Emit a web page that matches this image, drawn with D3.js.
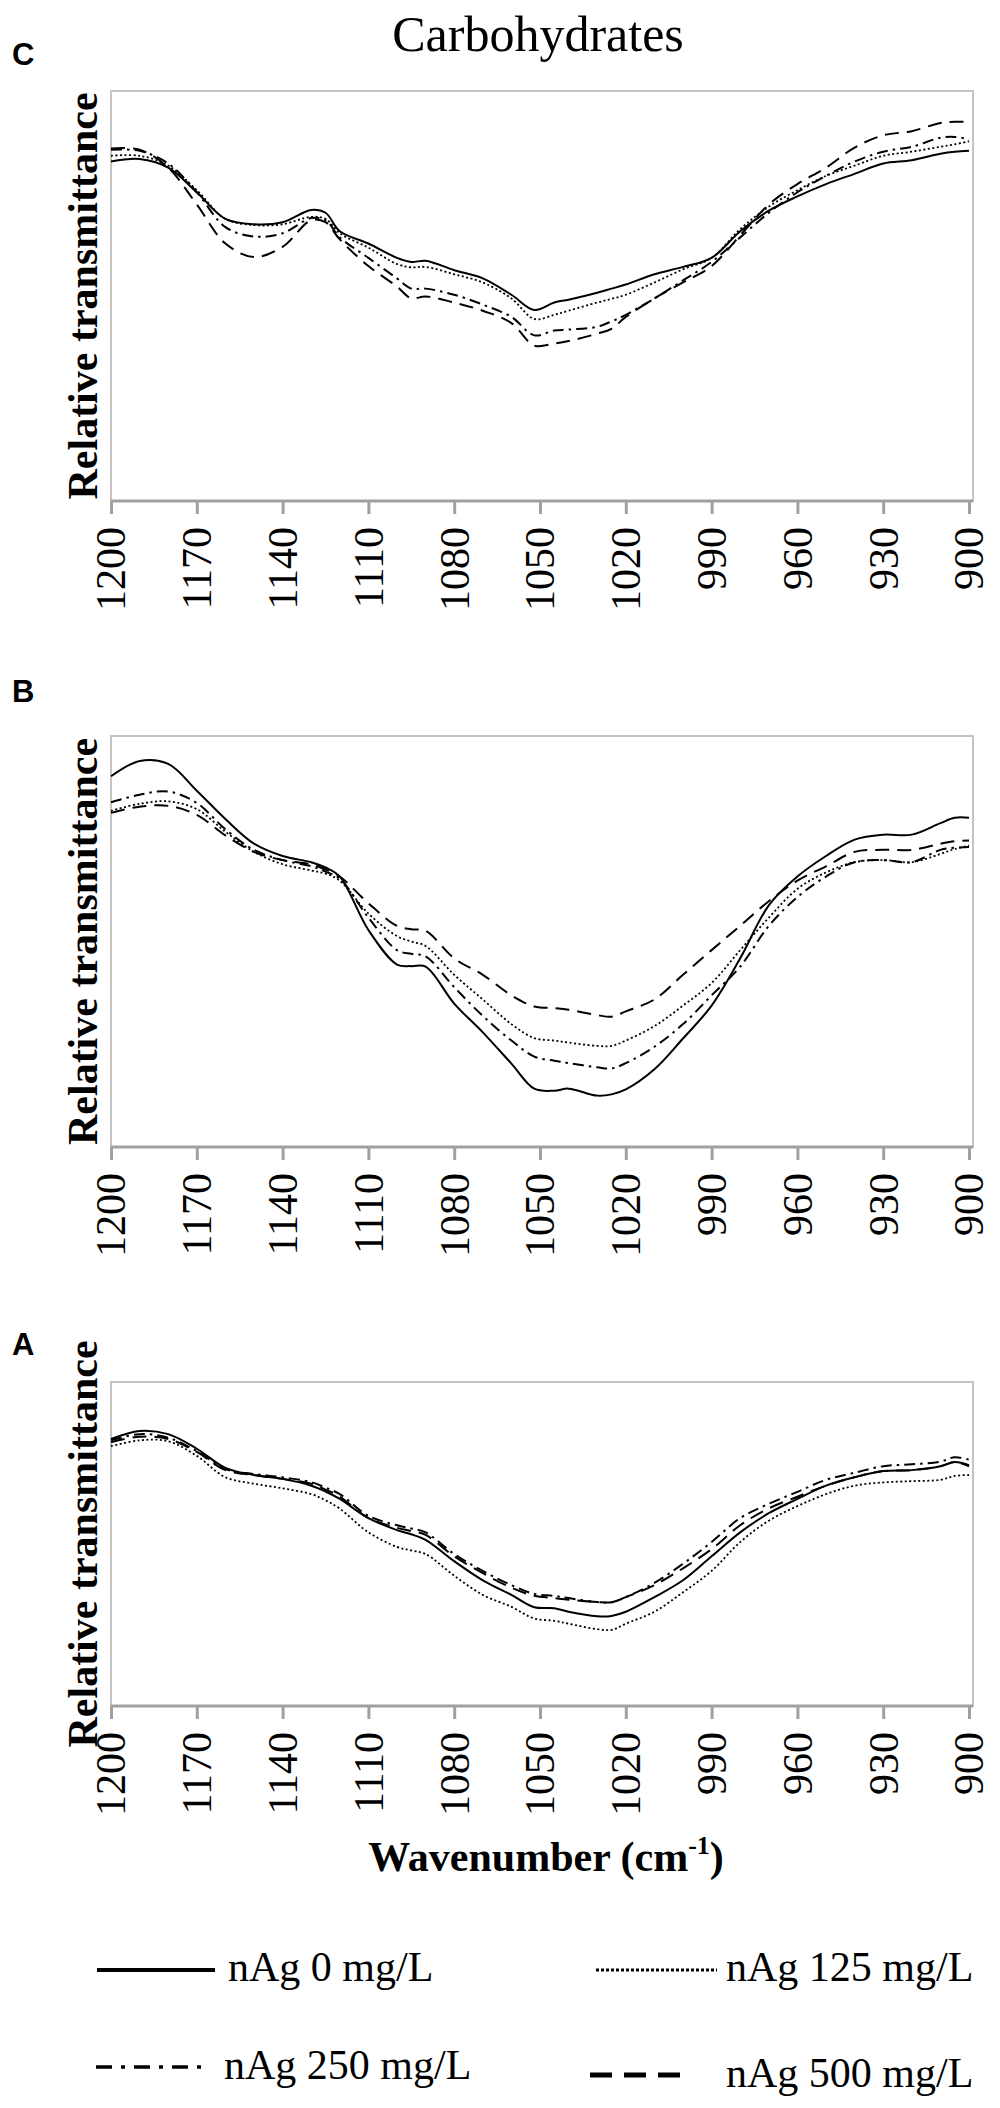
<!DOCTYPE html>
<html lang="en">
<head>
    <meta charset="UTF-8">
    <title>Carbohydrates</title>
    <script src="https://cdn.jsdelivr.net/npm/d3@7/dist/d3.min.js"></script>
    <style>
        body { margin: 0; background: #fff; }
    </style>
</head>
<body>
<svg id="main-svg" width="1000" height="2108" xmlns="http://www.w3.org/2000/svg"></svg>

<script>
    'use strict';
    // wavenumber grid (cm-1) the curves were read at
    const wavenumbers = [1200, 1190, 1180, 1170, 1160, 1150, 1140, 1130, 1125, 1120, 1110, 1100, 1095, 1090,
        1080, 1070, 1060, 1052, 1045, 1040, 1030, 1025, 1020, 1010, 1000, 990, 980, 970, 960, 950, 940,
        930, 920, 910, 905, 900];
    const xTicks = [1200, 1170, 1140, 1110, 1080, 1050, 1020, 990, 960, 930, 900];
    const seriesNames = ['nAg 0 mg/L', 'nAg 125 mg/L', 'nAg 250 mg/L', 'nAg 500 mg/L'];

    // relative transmittance, arbitrary units (0 = axis, 100 = top of frame)
    const panelC_0 = [82.8, 83.4, 81.3, 75.3, 68.8, 67.5, 68.0, 71.0, 70.3, 65.8, 62.8, 59.3, 58.3, 58.6,
        56.3, 54.3, 50.3, 46.6, 48.4, 49.1, 50.8, 51.8, 52.8, 55.3, 57.1, 59.3, 65.8, 70.8, 74.3, 77.3, 79.8,
        82.3, 83.1, 84.7, 85.2, 85.4];
    const panelC_125 = [84.2, 84.2, 81.8, 75.8, 68.8, 67.3, 67.5, 69.3, 68.8, 65.3, 61.8, 57.8, 57.0, 57.1,
        55.3, 53.3, 49.4, 44.4, 45.4, 46.4, 48.4, 49.3, 50.3, 53.3, 56.5, 59.3, 66.3, 71.8, 75.8, 79.3, 81.8,
        84.2, 85.2, 86.4, 87.0, 87.7];
    const panelC_250 = [85.7, 85.4, 82.3, 75.3, 66.8, 64.5, 65.3, 69.0, 68.5, 64.3, 59.3, 54.3, 51.8, 51.8,
        50.3, 47.9, 44.9, 40.4, 41.6, 41.8, 42.5, 43.8, 45.4, 49.4, 53.8, 58.3, 64.3, 70.3, 75.3, 79.3, 82.8,
        85.2, 86.4, 88.6, 88.8, 88.2];
    const panelC_500 = [86.0, 85.7, 81.3, 72.3, 62.8, 59.5, 62.0, 68.5, 68.0, 63.8, 57.3, 52.3, 49.4, 49.9,
        48.4, 46.4, 43.4, 37.9, 38.4, 39.0, 40.8, 42.0, 44.9, 49.4, 53.3, 57.3, 64.8, 72.3, 77.3, 81.3, 86.2,
        89.2, 90.2, 92.2, 92.5, 92.5];

    const panelB_0 = [90.2, 93.9, 93.2, 86.7, 79.8, 73.8, 70.8, 69.3, 68.0, 65.8, 52.8, 44.4, 44.0, 43.9,
        34.9, 27.9, 20.3, 14.2, 13.7, 14.2, 12.5, 12.8, 14.0, 18.9, 26.4, 34.4, 45.9, 58.8, 65.8, 70.8, 74.8,
        76.0, 76.0, 78.8, 80.1, 80.1];
    const panelB_125 = [81.8, 83.5, 84.1, 82.2, 76.7, 71.8, 68.8, 67.3, 66.5, 64.8, 56.8, 51.3, 50.0, 48.9,
        41.9, 35.9, 29.9, 26.5, 25.9, 25.4, 24.6, 24.6, 25.9, 29.4, 34.4, 39.9, 47.9, 55.8, 62.8, 66.8, 69.3,
        69.8, 69.3, 71.3, 72.5, 73.3];
    const panelB_250 = [83.9, 85.7, 86.5, 83.7, 77.3, 72.3, 69.8, 68.3, 67.0, 65.3, 55.8, 47.9, 47.0, 46.4,
        38.9, 31.9, 25.9, 22.0, 21.0, 20.4, 19.4, 19.1, 20.4, 24.4, 29.9, 36.9, 43.9, 53.8, 60.8, 65.8, 69.3,
        69.8, 69.3, 72.3, 72.8, 73.0];
    const panelB_500 = [81.3, 82.8, 83.0, 80.8, 75.8, 71.8, 69.8, 68.8, 67.5, 65.8, 59.3, 53.8, 53.0, 52.6,
        45.9, 41.9, 36.9, 34.2, 33.8, 33.4, 32.1, 31.7, 33.0, 35.9, 41.9, 47.9, 53.8, 59.8, 64.8, 68.3, 71.8,
        72.3, 72.3, 73.8, 74.4, 74.6];

    const panelA_0 = [82.4, 84.9, 83.9, 79.4, 73.5, 71.3, 70.1, 68.0, 66.2, 63.9, 58.0, 54.3, 53.0, 51.3,
        44.7, 38.8, 34.3, 30.5, 30.2, 29.1, 27.7, 27.8, 29.1, 33.6, 38.8, 46.2, 53.6, 59.5, 63.9, 68.0, 70.6,
        72.5, 72.8, 74.0, 75.3, 74.3];
    const panelA_125 = [80.2, 82.0, 81.7, 77.2, 70.6, 68.6, 67.2, 65.4, 63.5, 60.9, 53.6, 49.1, 48.0, 46.9,
        40.2, 34.3, 30.6, 27.0, 26.3, 25.4, 23.7, 23.5, 25.4, 29.1, 35.1, 41.7, 50.6, 57.2, 61.7, 65.4, 68.0,
        69.0, 69.4, 69.8, 71.0, 71.3];
    const panelA_250 = [82.0, 83.9, 82.8, 78.7, 73.1, 71.6, 70.6, 69.1, 67.4, 65.4, 58.7, 55.8, 54.8, 53.6,
        46.9, 41.7, 37.3, 34.6, 34.0, 33.3, 32.1, 32.0, 33.6, 38.0, 43.9, 50.6, 58.0, 62.4, 66.1, 69.8, 72.0,
        74.0, 74.6, 75.4, 76.8, 76.0];
    const panelA_500 = [81.4, 83.1, 82.4, 78.4, 72.8, 71.3, 70.1, 68.6, 66.8, 64.6, 58.0, 55.0, 54.0, 52.8,
        46.2, 41.0, 36.5, 34.0, 33.3, 32.8, 32.1, 32.0, 33.6, 37.3, 42.5, 48.4, 55.8, 61.0, 64.6, 68.0, 70.6,
        72.5, 72.8, 74.0, 75.3, 74.0];

    /* line styles, same order as seriesNames */
    const dashes = ['none', '2,2.5', '11,5,2.5,5', '14,8'];
    const legendDashes = ['none', '3,2', '16,9,4,9', '22,12'];
    const legendWidths = [4, 3, 3.5, 5];

    const SERIF = '"Liberation Serif", "Times New Roman", Times, serif';
    const SANS = '"Liberation Sans", Arial, Helvetica, sans-serif';

    const svg = d3.select('#main-svg');

    const panels = [
        {label: 'C', labelY: 65, top: 91, bottom: 501, data: [panelC_0, panelC_125, panelC_250, panelC_500]},
        {label: 'B', labelY: 702, top: 736, bottom: 1147, data: [panelB_0, panelB_125, panelB_250, panelB_500]},
        {label: 'A', labelY: 1355, top: 1382, bottom: 1706, data: [panelA_0, panelA_125, panelA_250, panelA_500]}
    ];

    const x = d3.scaleLinear().domain([1200, 900]).range([111, 969]);
    const frameRight = 973;

    svg.append('text')
        .style('font-family', SERIF)
        .attr('x', 538).attr('y', 51)
        .attr('text-anchor', 'middle')
        .attr('font-size', 50)
        .text('Carbohydrates');

    panels.forEach(function (p) {
        const y = d3.scaleLinear().domain([0, 100]).range([p.bottom, p.top]);
        const g = svg.append('g');

        // panel letter
        g.append('text')
            .style('font-family', SANS)
            .attr('x', 12).attr('y', p.labelY)
            .attr('font-size', 31).attr('font-weight', 'bold')
            .text(p.label);

        // light frame round the plot area
        g.append('rect')
            .attr('x', x(1200)).attr('y', p.top)
            .attr('width', frameRight - x(1200)).attr('height', p.bottom - p.top)
            .attr('fill', 'none').attr('stroke', '#c4c4c4').attr('stroke-width', 2);

        // x axis
        const axis = g.append('g')
            .attr('transform', 'translate(0,' + p.bottom + ')')
            .call(d3.axisBottom(x).tickValues(xTicks).tickSize(13).tickSizeOuter(0).tickFormat(d3.format('d')));
        axis.attr('font-family', null);
        axis.select('.domain').attr('stroke', '#a0a0a0').attr('stroke-width', 3)
            .attr('d', 'M' + x(1200) + ',0H' + frameRight);
        axis.selectAll('.tick line').attr('stroke', '#a0a0a0').attr('stroke-width', 3);
        axis.selectAll('.tick text')
            .style('font-family', SERIF)
            .attr('font-size', 42)
            .attr('fill', '#000')
            .attr('transform', 'rotate(-90)')
            .attr('text-anchor', 'end')
            .attr('x', -26).attr('y', 0)
            .attr('dy', '0.33em');

        // y axis title
        g.append('text')
            .style('font-family', SERIF)
            .attr('transform', 'translate(97,' + ((p.top + p.bottom) / 2) + ') rotate(-90)')
            .attr('text-anchor', 'middle')
            .attr('font-size', 42).attr('font-weight', 'bold')
            .text('Relative transmittance');

        const line = d3.line()
            .x((d, i) => x(wavenumbers[i]))
            .y(d => y(d))
            .curve(d3.curveCatmullRom.alpha(0.5));

        g.selectAll('path.series')
            .data(p.data)
            .enter()
            .append('path')
            .attr('class', 'series')
            .attr('d', line)
            .attr('fill', 'none')
            .attr('stroke', '#000')
            .attr('stroke-width', (d, i) => i === 1 ? 1.8 : 2)
            .attr('stroke-dasharray', (d, i) => dashes[i]);
    });

    // x axis title, under the bottom panel
    const xt = svg.append('text')
        .style('font-family', SERIF)
        .attr('x', 546).attr('y', 1871)
        .attr('text-anchor', 'middle')
        .attr('font-size', 42).attr('font-weight', 'bold');
    xt.append('tspan').text('Wavenumber (cm');
    xt.append('tspan').attr('font-size', 26).attr('dy', -17).text('-1');
    xt.append('tspan').attr('dy', 17).text(')');

    // legend, two columns
    const legendItems = [
        {x1: 97, x2: 215, ly: 1970, tx: 228, ty: 1981},
        {x1: 596, x2: 717, ly: 1970, tx: 726, ty: 1981},
        {x1: 96, x2: 205, ly: 2067, tx: 224, ty: 2079},
        {x1: 590, x2: 692, ly: 2075, tx: 726, ty: 2087}
    ];
    const legend = svg.append('g').selectAll('g')
        .data(seriesNames)
        .enter()
        .append('g');
    legend.append('line')
        .attr('x1', (d, i) => legendItems[i].x1).attr('x2', (d, i) => legendItems[i].x2)
        .attr('y1', (d, i) => legendItems[i].ly).attr('y2', (d, i) => legendItems[i].ly)
        .attr('stroke', '#000')
        .attr('stroke-width', (d, i) => legendWidths[i])
        .attr('stroke-dasharray', (d, i) => legendDashes[i]);
    legend.append('text')
        .style('font-family', SERIF)
        .attr('x', (d, i) => legendItems[i].tx).attr('y', (d, i) => legendItems[i].ty)
        .attr('font-size', 42)
        .text(d => d);
</script>
</body>
</html>
